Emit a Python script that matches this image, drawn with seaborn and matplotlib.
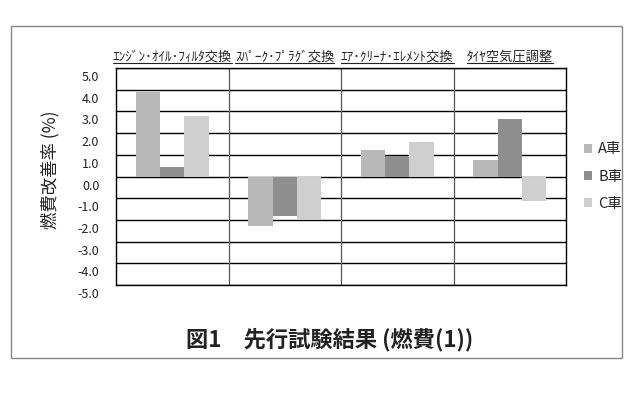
import matplotlib
matplotlib.use("Agg")
import matplotlib.pyplot as plt
import matplotlib.transforms as mtransforms
from matplotlib.lines import Line2D
from matplotlib.patches import Rectangle
import seaborn as sns
import pandas as pd

# data
categories = ["ｴﾝｼﾞﾝ･ｵｲﾙ･ﾌｨﾙﾀ交換", "ｽﾊﾟｰｸ･ﾌﾟﾗｸﾞ交換", "ｴｱ･ｸﾘｰﾅ･ｴﾚﾒﾝﾄ交換", "ﾀｲﾔ空気圧調整"]
cars = ["A車", "B車", "C車"]
car_a = [3.9, -2.3, 1.2, 0.75]
car_b = [0.45, -1.8, 0.95, 2.65]
car_c = [2.8, -1.95, 1.6, -1.15]
yticks = [5, 4, 3, 2, 1, 0, -1, -2, -3, -4, -5]
colors = ["#b8b8b8", "#8e8e8e", "#cfcfcf"]

rows = []
for car, vals in zip(cars, [car_a, car_b, car_c]):
    for cat, v in zip(categories, vals):
        rows.append({"項目": cat, "車両": car, "改善率": v})
df = pd.DataFrame(rows)

sns.set_theme(style="white")
plt.rcParams['font.family'] = ['Noto Sans CJK JP', 'DejaVu Sans']

fig = plt.figure(figsize=(6.4, 4), dpi=100)
fig.patch.set_facecolor("white")
ax = fig.add_axes([116/640, 1 - 285/400, 450/640, 217/400])

sns.barplot(data=df, x="項目", y="改善率", hue="車両", order=categories,
            hue_order=cars, palette=colors, width=0.65, gap=0,
            saturation=1, errorbar=None, ax=ax, zorder=3,
            linewidth=0, edgecolor="none")

ax.set_ylim(-5, 5)
ax.set_xlim(-0.5, 3.5)
ax.set_yticks(yticks)
ax.set_yticklabels([f"{v:.1f}" for v in yticks], fontsize=9, color="#222222")
ax.yaxis.grid(True, color="black", linewidth=1.0)
ax.set_axisbelow(True)
for xs in [0.5, 1.5, 2.5]:
    ax.axvline(xs, color="#555555", linewidth=0.9, zorder=1)
for sp in ax.spines.values():
    sp.set_color("black")
    sp.set_linewidth(1.0)

ax.xaxis.tick_top()
ax.tick_params(axis="x", length=0, pad=3, labelsize=9.5)
ax.tick_params(axis="y", length=0, pad=12)
ax.set_xlabel("")
ax.set_ylabel("")

# the scan has the value labels sitting a little below their grid lines
shift = mtransforms.ScaledTranslation(0, -0.08, fig.dpi_scale_trans)
for lbl in ax.get_yticklabels():
    lbl.set_transform(lbl.get_transform() + shift)

fig.text(50/640, 1 - 170/400, "燃費改善率 (%)", rotation=90, fontsize=12.5,
         ha="center", va="center", color="#222222")

ax.legend(loc="center left", bbox_to_anchor=(1.01, 0.5), frameon=False,
          fontsize=10.5, handlelength=0.6, handleheight=0.6,
          labelspacing=0.9, handletextpad=0.4)

fig.text(330/640, 1 - 340/400, "図1　先行試験結果 (燃費(1))", fontsize=16,
         fontweight="bold", ha="center", va="center", color="#222222")

# outer frame
fig.add_artist(Rectangle((11/640, 1 - 358/400), 611/640, 332/400,
                         transform=fig.transFigure, fill=False,
                         edgecolor="#888888", linewidth=1.0))

# underline the category labels
fig.canvas.draw()
inv = fig.transFigure.inverted()
for lbl in ax.get_xticklabels():
    bb = lbl.get_window_extent()
    (x0, y0), (x1, _) = inv.transform([(bb.x0, bb.y0 + 1), (bb.x1, bb.y0)])
    fig.add_artist(Line2D([x0, x1], [y0, y0], transform=fig.transFigure,
                          color="#222222", linewidth=0.8))

fig.savefig("out.png", dpi=100)
